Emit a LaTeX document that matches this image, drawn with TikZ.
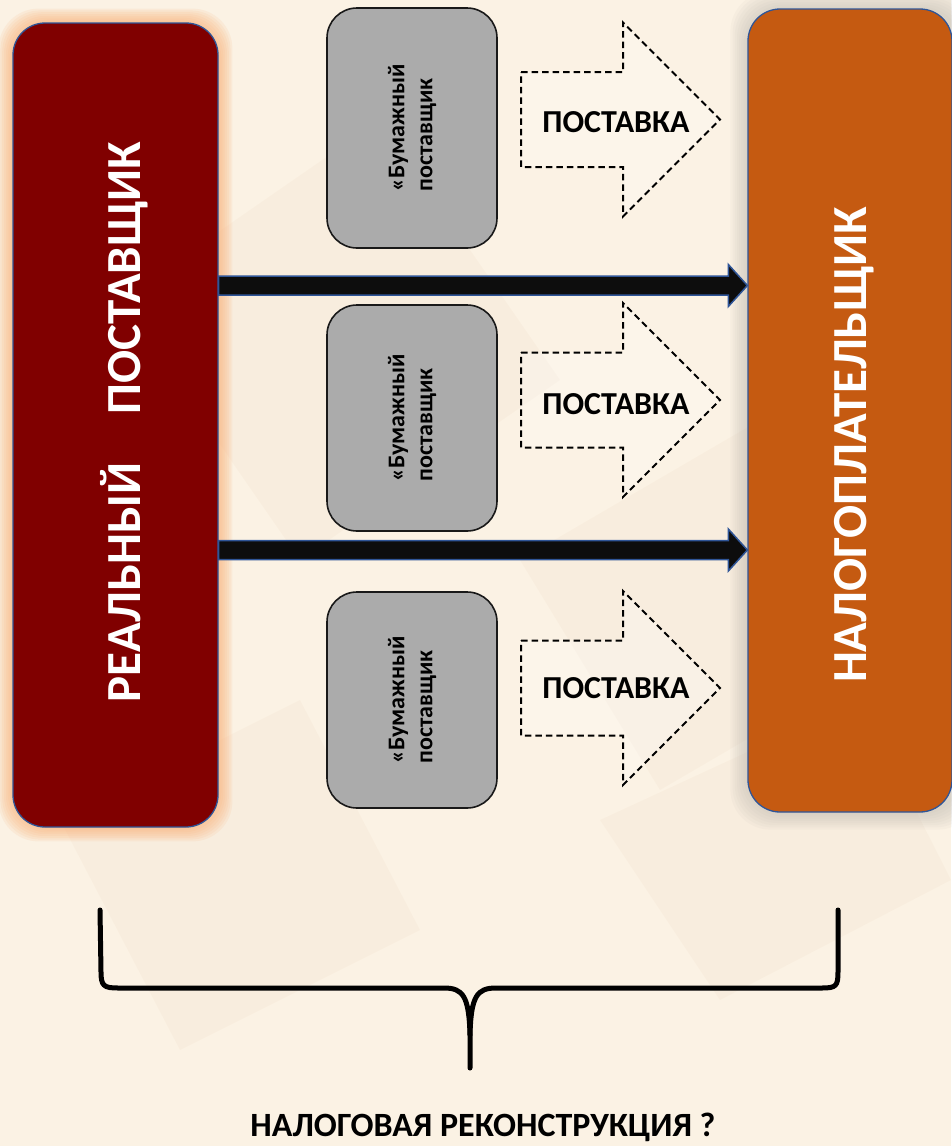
\documentclass[tikz,border=0pt]{standalone}
\usepackage{fontspec}
\setmainfont{Carlito}
\usetikzlibrary{calc}
\definecolor{bgcream}{HTML}{FBF2E4}
\definecolor{realred}{HTML}{800000}
\definecolor{taxorange}{HTML}{C55A11}
\definecolor{boxblue}{HTML}{2F5597}
\definecolor{paper}{HTML}{ABABAB}
\definecolor{glowor}{HTML}{F9B47C}
\definecolor{glowgr}{HTML}{B8B2AA}
\tikzset{
  bigbox/.style={rectangle, rounded corners=32pt, draw=boxblue, line width=1.3pt},
  bigtext/.style={rotate=90, text=white, font=\bfseries\fontsize{49}{53}\selectfont},
  paperbox/.style={rectangle, rounded corners=30pt, fill=paper, draw=black!90, line width=1.6pt, minimum width=170pt},
  papertext/.style={rotate=90, align=left, font=\bfseries\fontsize{24}{28}\selectfont, text=black},
  supplyarrow/.style={draw=black, dash pattern=on 6.5pt off 4pt, line width=2pt, fill=white, fill opacity=0.25},
  supplytext/.style={font=\bfseries\fontsize{32}{36}\selectfont, text=black},
  flowarrow/.style={fill=black!95, draw=boxblue, line width=1.5pt, line join=miter},
  bracestyle/.style={line width=5pt, line join=round, line cap=round}
}
\begin{document}
\begin{tikzpicture}[x=1pt,y=-1pt]
\fill[bgcream] (0,0) rectangle (951,1146);
\useasboundingbox (0,0) rectangle (951,1146);
% faint background pattern
\begin{scope}[opacity=0.035]
  \fill[brown] (120,300) -- (380,120) -- (560,380) -- (300,560) -- cycle;
  \fill[brown] (520,560) -- (760,420) -- (900,650) -- (660,790) -- cycle;
  \fill[brown] (60,820) -- (300,700) -- (420,930) -- (180,1050) -- cycle;
  \fill[brown] (600,820) -- (860,700) -- (951,880) -- (720,1000) -- cycle;
\end{scope}
% glows
\foreach \i in {1,...,8}{
  \fill[glowor, opacity=0.13, rounded corners=40pt] ({13-1.8*\i},{23-1.8*\i}) rectangle ({218+1.8*\i},{827+1.8*\i});
  \fill[glowgr, opacity=0.07, rounded corners=40pt] ({748-2.2*\i},{9-2.2*\i}) rectangle ({960+2.2*\i},{812+2.2*\i});
}
% main boxes
\node[bigbox, fill=realred, minimum width=205pt, minimum height=804pt] (real) at (115.5,425) {};
\node[bigbox, fill=taxorange, minimum width=204pt, minimum height=803pt] (payer) at (850,410.5) {};
\node[bigtext] (realtext) at (124,422) {РЕАЛЬНЫЙ\hspace*{48pt}ПОСТАВЩИК};
\node[bigtext] (payertext) at (854,445) {НАЛОГОПЛАТЕЛЬЩИК};
% paper suppliers
\node[paperbox, minimum height=240pt] (p1) at (412,128) {};
\node[paperbox, minimum height=226pt] (p2) at (412,418) {};
\node[paperbox, minimum height=216pt] (p3) at (412,700) {};
\node[papertext] (p1t) at (p1.center) {«Бумажный\\поставщик};
\node[papertext] (p2t) at (p2.center) {«Бумажный\\поставщик};
\node[papertext] (p3t) at (p3.center) {«Бумажный\\поставщик};
% supply arrows
\foreach \n/\c in {1/119.5, 2/400, 3/688}{
  \draw[supplyarrow] (521,\c-47.5) -- (623,\c-47.5) -- (623,\c-97) -- (720,\c) -- (623,\c+97) -- (623,\c+47.5) -- (521,\c+47.5) -- cycle;
}
\node[supplytext] (s1) at (616,122) {ПОСТАВКА};
\node[supplytext] (s2) at (616,404) {ПОСТАВКА};
\node[supplytext] (s3) at (616,688) {ПОСТАВКА};
% flow arrows from real supplier to taxpayer
\foreach \n/\c in {1/285.5, 2/550}{
  \coordinate (a\n) at (real.east |- 0,\c);
  \coordinate (b\n) at (payer.west |- 0,\c);
  \draw[flowarrow] ($(a\n)+(0,-9.5)$) -- ($(b\n)+(-19,-9.5)$) -- ($(b\n)+(-19,-21)$) -- (b\n) -- ($(b\n)+(-19,21)$) -- ($(b\n)+(-19,9.5)$) -- ($(a\n)+(0,9.5)$) -- cycle;
}
% brace
\draw[bracestyle] (100,910) -- (101,972) .. controls (101,986) and (104,988) .. (118,988) -- (444,988) .. controls (463,988) and (469,996) .. (470,1035) -- (470,1068);
\draw[bracestyle] (470,1035) .. controls (471,996) and (477,988) .. (496,988) -- (822,988) .. controls (836,988) and (838,986) .. (838,972) -- (838,910);
\node[font=\bfseries\fontsize{34}{38}\selectfont, text=black] (recon) at (483,1127) {НАЛОГОВАЯ РЕКОНСТРУКЦИЯ ?};
\end{tikzpicture}
\end{document}
